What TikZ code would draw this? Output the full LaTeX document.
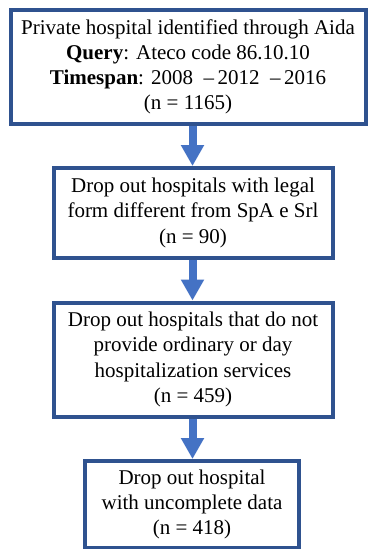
\documentclass[tikz,border=0pt]{standalone}
\usepackage{fontspec}
\setmainfont{Liberation Serif}
\usetikzlibrary{positioning,arrows.meta}
\definecolor{boxline}{HTML}{2F528F}
\definecolor{arrowblue}{HTML}{4472C4}

\begin{document}
\begin{tikzpicture}[x=1pt,y=-1pt,
    every node/.style={align=center, font=\fontsize{21}{25.2}\selectfont},
    stepbox/.style={draw=boxline, line width=4pt, inner sep=0pt, fill=white},
    >={Triangle[length=21pt,width=22pt]},
    flow/.style={->, draw=arrowblue, fill=arrowblue, line width=8pt},
]
\useasboundingbox (0,0) rectangle (368,549);
\node[stepbox, minimum width=355pt, minimum height=114.5pt] (aida) at (188,66.75)
    {Private hospital identified through Aida \\ \textbf{Query}: Ateco code 86.10.10 \\
     \textbf{Timespan}: 2008\ \ --\,2012\ \ --\,2016 \\ (n = 1165)};
\node[stepbox, minimum width=279pt, minimum height=89.5pt] (legal) at (193,212.75)
    {Drop out hospitals with legal \\ form different from SpA e Srl \\ (n = 90)};
\node[stepbox, minimum width=279pt, minimum height=114pt] (services) at (193,359.5)
    {Drop out hospitals that do not \\ provide ordinary or day \\ hospitalization services \\ (n = 459)};
\node[stepbox, minimum width=214pt, minimum height=86.5pt] (data) at (192,504.25)
    {Drop out hospital \\ with uncomplete data \\ (n = 418)};
\draw[flow] (aida.south -| 192.5,0) -- (legal.north -| 192.5,0);
\draw[flow] (legal.south -| 192.5,0) -- (services.north -| 192.5,0);
\draw[flow] (services.south -| 192.5,0) -- (data.north -| 192.5,0);
\end{tikzpicture}
\end{document}
